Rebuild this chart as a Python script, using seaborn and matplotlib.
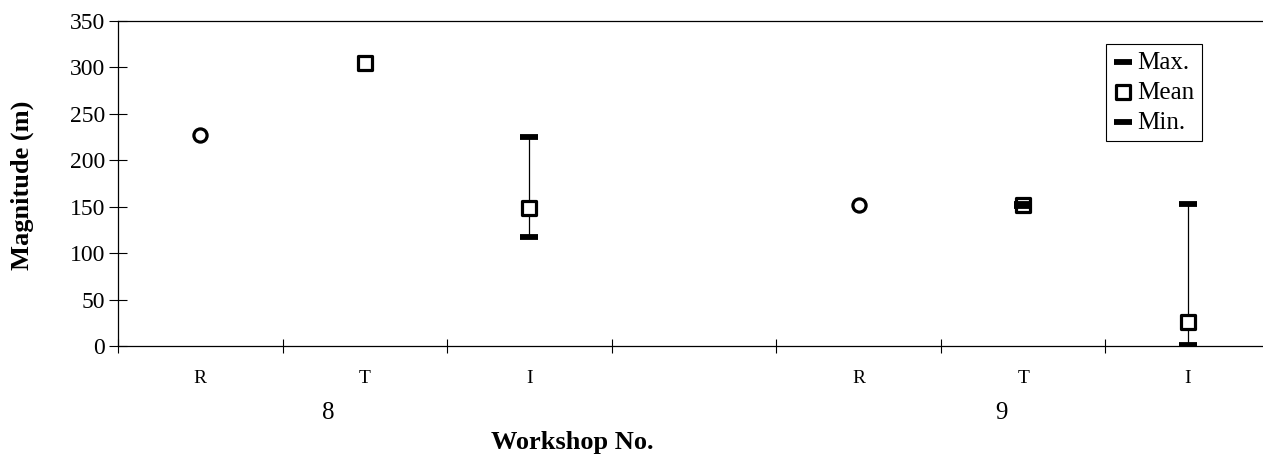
import numpy as np
import pandas as pd
import matplotlib
matplotlib.use("Agg")
import matplotlib.pyplot as plt
import seaborn as sns

sns.set_theme(style="white")
plt.rcParams['font.family'] = ['Liberation Serif', 'DejaVu Serif']
plt.rcParams['text.color'] = 'black'
plt.rcParams['axes.labelcolor'] = 'black'
plt.rcParams['xtick.color'] = 'black'
plt.rcParams['ytick.color'] = 'black'

# categories along the x axis (blank slot separates the two workshops)
categories = ['R', 'T', 'I', '', 'R', 'T', 'I']
group_labels = ['8', '9']

# values (m)
reported_pos = [0, 4]
reported_val = [227, 152]

mean_pos = [1, 2, 5, 6]
mean_val = [305, 149, 152, 26]

range_pos = [2, 5, 6]
max_val = [225, 153, 153]
min_val = [117, 151, 1]

df_rep = pd.DataFrame({'pos': reported_pos, 'value': reported_val})
df_mean = pd.DataFrame({'pos': mean_pos, 'value': mean_val})
df_range = pd.DataFrame({'pos': range_pos, 'max': max_val, 'min': min_val})

W, H = 1263, 469
fig = plt.figure(figsize=(W / 100, H / 100), dpi=100)
ax = fig.add_axes([118 / W, (H - 346) / H, (1270 - 118) / W, 325 / H])

# range whiskers
ax.vlines(df_range['pos'], df_range['min'], df_range['max'], color='black', linewidth=0.9, zorder=2)

sns.scatterplot(x='pos', y='value', data=df_rep, marker='o', s=90, facecolor='white',
                edgecolor='black', linewidth=2.3, ax=ax, zorder=3)
sns.scatterplot(x='pos', y='max', data=df_range, marker='_', s=170, color='black',
                linewidth=4.2, ax=ax, zorder=4, label='Max.')
sns.scatterplot(x='pos', y='value', data=df_mean, marker='s', s=100, facecolor='white',
                edgecolor='black', linewidth=2.3, ax=ax, zorder=3, label='Mean')
sns.scatterplot(x='pos', y='min', data=df_range, marker='_', s=170, color='black',
                linewidth=4.2, ax=ax, zorder=4, label='Min.')

ax.set_xlim(-0.5, len(categories) - 0.5)
ax.set_ylim(0, 350)
ax.set_yticks(np.arange(0, 351, 50))
ax.tick_params(axis='y', left=True, direction='inout', length=13, width=0.8, labelsize=17, pad=3)

ax.set_xticks(range(len(categories)))
ax.set_xticklabels(categories)
ax.set_xticks(np.arange(-0.5, len(categories), 1), minor=True)
ax.tick_params(axis='x', which='major', bottom=False, length=0, labelsize=14, pad=17)
ax.tick_params(axis='x', which='minor', bottom=True, direction='inout', length=10, width=0.8)

for side in ['left', 'bottom', 'top']:
    ax.spines[side].set_visible(True)
    ax.spines[side].set_color('black')
    ax.spines[side].set_linewidth(0.9)
ax.spines['right'].set_visible(False)
ax.set_xlabel('')
ax.set_ylabel('')

# workshop numbers under the category labels
for lab, xp in zip(group_labels, [0.78, 4.87]):
    ax.text(xp, -0.205, lab, transform=ax.get_xaxis_transform(), ha='center', va='center', fontsize=18)

fig.text(572 / W, 1 - 442 / H, 'Workshop No.', ha='center', va='center', fontsize=19, fontweight='bold')
fig.text(22 / W, 1 - 185 / H, 'Magnitude (m)', ha='center', va='center', rotation=90,
         fontsize=19, fontweight='bold')

leg = ax.legend(loc='upper right', bbox_to_anchor=(1202 / W, 1 - 44 / H), bbox_transform=fig.transFigure,
                frameon=True, fancybox=False, shadow=False, fontsize=18, handletextpad=0.2,
                handlelength=0.75, labelspacing=0.3, borderpad=0.3, borderaxespad=0)
leg.get_frame().set_edgecolor('black')
leg.get_frame().set_linewidth(0.8)
leg.get_frame().set_alpha(1)

fig.savefig('out.png', dpi=100)
